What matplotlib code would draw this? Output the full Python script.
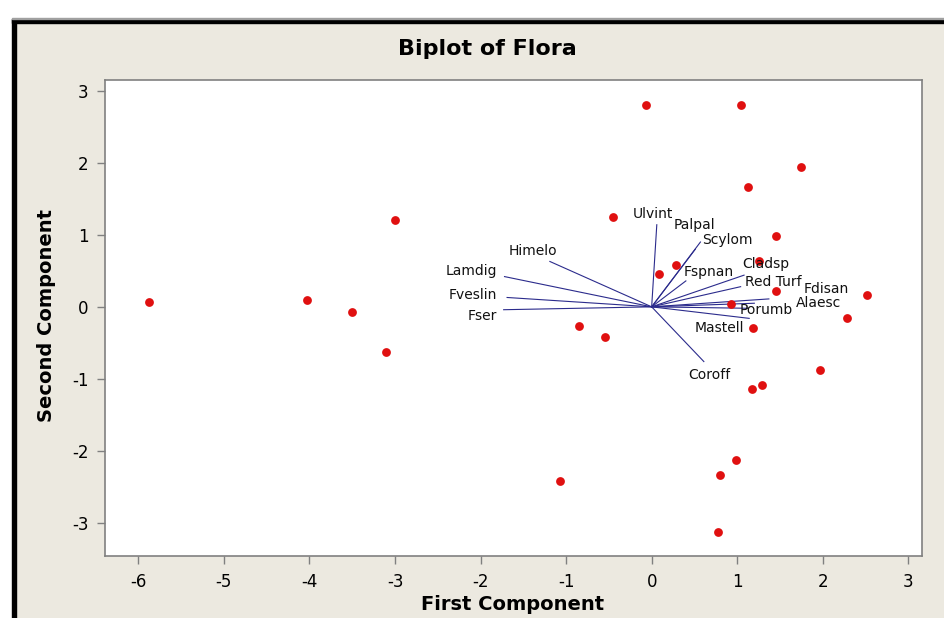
import numpy as np
import matplotlib.pyplot as plt
from matplotlib.patches import Rectangle

plt.rcParams["axes.unicode_minus"] = False

# scores (observations)
score_x = [-5.88, -4.03, -3.5, -3.1, -3.0, -1.07, -0.85, -0.55, -0.45, -0.07,
           0.08, 0.28, 1.05, 1.75, 1.13, 1.45, 1.25, 1.45, 0.93, 1.18,
           2.52, 2.28, 1.97, 1.29, 1.17, 0.98, 0.8, 0.78]
score_y = [0.07, 0.1, -0.07, -0.63, 1.2, -2.42, -0.27, -0.42, 1.25, 2.8,
           0.45, 0.58, 2.8, 1.94, 1.66, 0.99, 0.63, 0.22, 0.04, -0.29,
           0.16, -0.15, -0.88, -1.08, -1.14, -2.12, -2.34, -3.12]

# loadings (vectors)
species = ["Ulvint", "Palpal", "Scylom", "Fspnan", "Cladsp", "Red Turf",
           "Fdisan", "Alaesc", "Porumb", "Mastell", "Coroff",
           "Himelo", "Lamdig", "Fveslin", "Fser"]
load_x = [0.06, 0.51, 0.57, 0.40, 1.08, 1.04, 1.37, 1.20, 1.13, 1.14, 0.61,
          -1.19, -1.72, -1.69, -1.73]
load_y = [1.14, 0.80, 0.90, 0.36, 0.44, 0.28, 0.11, 0.05, -0.02, -0.16, -0.76,
          0.63, 0.42, 0.13, -0.04]

# label anchor points
lab_x = [0.01, 0.50, 0.88, 0.67, 1.34, 1.42, 2.04, 1.95, 1.34, 0.79, 0.67,
         -1.39, -1.81, -1.81, -1.81]
lab_y = [1.29, 1.14, 0.93, 0.48, 0.60, 0.34, 0.25, 0.06, -0.04, -0.29, -0.94,
         0.77, 0.50, 0.17, -0.13]
lab_ha = ["center"] * 11 + ["center", "right", "right", "right"]

xticks = [-6, -5, -4, -3, -2, -1, 0, 1, 2, 3]
yticks = [-3, -2, -1, 0, 1, 2, 3]

W, H = 944, 618
fig = plt.figure(figsize=(W / 100, H / 100), dpi=100, facecolor="white")

# minitab style frame
beige = "#ECE9E0"
fig.patches.append(Rectangle((16 / W, 0), 1 - 16 / W, 1 - 23 / H,
                             transform=fig.transFigure, color=beige, zorder=-5))
fig.patches.append(Rectangle((12 / W, 0), 4 / W, 1 - 19 / H,
                             transform=fig.transFigure, color="black", zorder=-5))
fig.patches.append(Rectangle((12 / W, 1 - 23 / H), 1 - 12 / W, 4 / H,
                             transform=fig.transFigure, color="black", zorder=-5))
fig.patches.append(Rectangle((12 / W, 1 - 19 / H), 1 - 12 / W, 1 / H,
                             transform=fig.transFigure, color="#A0A0A0", zorder=-5))

ax = fig.add_axes([105 / W, 1 - 556 / H, (922 - 105) / W, (556 - 80) / H])
ax.set_facecolor("white")

for i in range(len(species)):
    ax.plot([0, load_x[i]], [0, load_y[i]], color="#2B2B8C", lw=0.8, zorder=2)
    ax.text(lab_x[i], lab_y[i], species[i], ha=lab_ha[i], va="center",
            fontsize=10, color="#111111", zorder=4)

ax.scatter(score_x, score_y, s=40, color="#E01010", zorder=3, linewidths=0)

ax.set_xlim(-6.39, 3.16)
ax.set_ylim(-3.46, 3.15)
ax.set_xticks(xticks)
ax.set_yticks(yticks)
ax.tick_params(direction="out", length=6, width=1, color="#808080",
               labelsize=12, pad=6)
for s in ax.spines.values():
    s.set_color("#808080")
    s.set_linewidth(1.2)

fig.text(487 / W, 1 - 49 / H, "Biplot of Flora", ha="center", va="center",
         fontsize=16, fontweight="bold")
fig.text(513 / W, 1 - 605 / H, "First Component", ha="center", va="center",
         fontsize=14, fontweight="bold")
fig.text(47 / W, 1 - 316 / H, "Second Component", ha="center", va="center",
         rotation=90, fontsize=14, fontweight="bold")

fig.savefig("out.png", dpi=100)
